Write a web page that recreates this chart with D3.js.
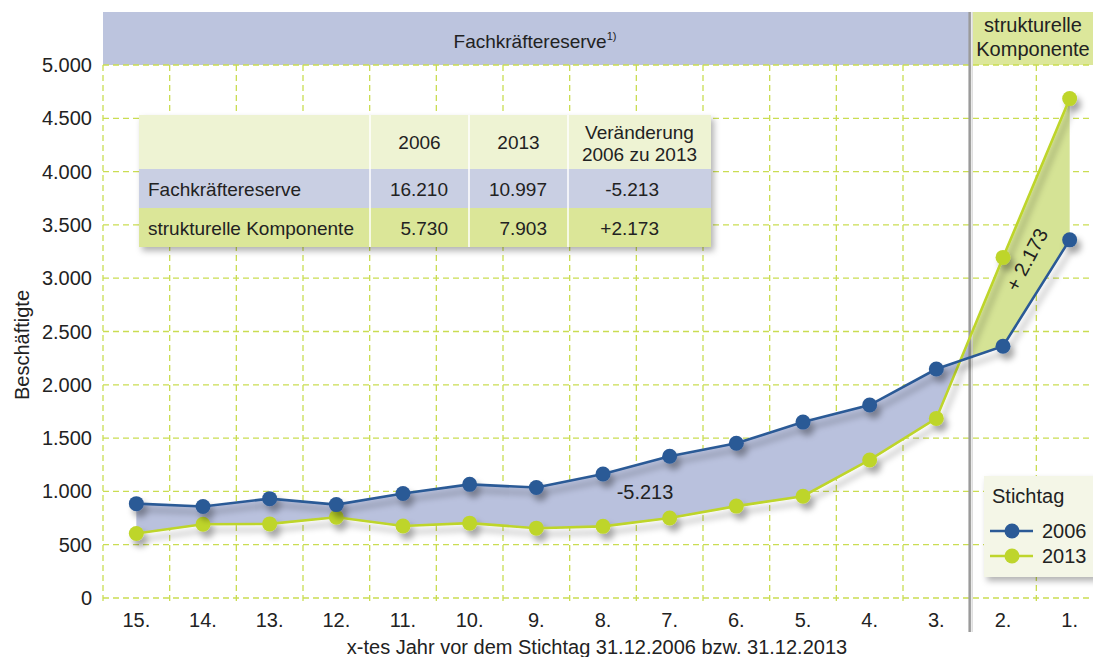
<!DOCTYPE html>
<html>
<head>
<meta charset="utf-8">
<script src="https://d3js.org/d3.v7.min.js"></script>
<style>
  body { margin: 0; background: #fff; }
  svg { display: block; font-family: "Liberation Sans", Arial, sans-serif; }
</style>
</head>
<body>
<svg id="chart" width="1093" height="657"></svg>
<script>
// data
const years = ["15.", "14.", "13.", "12.", "11.", "10.", "9.", "8.", "7.", "6.", "5.", "4.", "3.", "2.", "1."];
const v2006 = [885, 858, 932, 876, 980, 1066, 1036, 1163, 1330, 1452, 1650, 1810, 2148, 2362, 3360];
const v2013 = [605, 692, 695, 758, 675, 702, 655, 672, 750, 862, 955, 1295, 1685, 3195, 4685];
const yTicks = [0, 500, 1000, 1500, 2000, 2500, 3000, 3500, 4000, 4500, 5000];
const tableHead = ["", "2006", "2013", "Veränderung|2006 zu 2013"];
const tableRows = [
  ["Fachkräftereserve", "16.210", "10.997", "-5.213"],
  ["strukturelle Komponente", "5.730", "7.903", "+2.173"]
];
const legendItems = ["2006", "2013"];

const svg = d3.select("#chart");
const blue = "#2b5a96", green = "#bed52c";
const gridCol = "#cadd52";
const txt = "#222";

const x = d3.scaleBand().domain(years).range([103, 1103]);
const y = d3.scaleLinear().domain([0, 5000]).range([598, 65]);
const cx = d => x(d) + x.bandwidth() / 2;
const sepX = x("2.");

// shadow filter
const defs = svg.append("defs");
const f = defs.append("filter").attr("id", "shadow").attr("x", "-20%").attr("y", "-20%").attr("width", "140%").attr("height", "140%");
f.append("feDropShadow").attr("dx", 4).attr("dy", 6).attr("stdDeviation", 3).attr("flood-color", "#000").attr("flood-opacity", 0.35);
const f2 = defs.append("filter").attr("id", "boxshadow").attr("x", "-10%").attr("y", "-10%").attr("width", "130%").attr("height", "130%");
f2.append("feDropShadow").attr("dx", 3).attr("dy", 4).attr("stdDeviation", 3).attr("flood-color", "#000").attr("flood-opacity", 0.3);
defs.append("clipPath").attr("id", "clipL").append("rect").attr("x", 0).attr("y", 0).attr("width", sepX).attr("height", 657);
defs.append("clipPath").attr("id", "clipR").append("rect").attr("x", sepX).attr("y", 0).attr("width", 300).attr("height", 657);

// header bands
svg.append("rect").attr("x", 103).attr("y", 12).attr("width", sepX - 103).attr("height", 53).attr("fill", "#bcc4de");
svg.append("rect").attr("x", sepX + 3).attr("y", 12).attr("width", 1093 - sepX).attr("height", 53).attr("fill", "#dce79b");
const ht = svg.append("text").attr("x", 535).attr("y", 48).attr("text-anchor", "middle").attr("font-size", 19).attr("fill", txt);
ht.append("tspan").text("Fachkräftereserve");
ht.append("tspan").attr("font-size", 11).attr("dy", -8).text("1)");
svg.append("text").attr("x", 1033).attr("y", 32).attr("text-anchor", "middle").attr("font-size", 20).attr("fill", txt).text("strukturelle");
svg.append("text").attr("x", 1033).attr("y", 56).attr("text-anchor", "middle").attr("font-size", 20).attr("fill", txt).text("Komponente");

// grid
const grid = svg.append("g").attr("stroke", gridCol).attr("stroke-width", 1.3).attr("stroke-dasharray", "6,4");
grid.selectAll(".h").data(yTicks).join("line")
  .attr("x1", 103).attr("x2", 1093).attr("y1", d => y(d)).attr("y2", d => y(d));
grid.selectAll(".v").data(d3.range(years.length + 1)).join("line")
  .attr("x1", i => 103 + i * x.bandwidth()).attr("x2", i => 103 + i * x.bandwidth())
  .attr("y1", 65).attr("y2", 602);

// axes labels
svg.append("g").selectAll("text").data(yTicks).join("text")
  .attr("x", 92).attr("y", d => y(d) + 7).attr("text-anchor", "end").attr("font-size", 20).attr("fill", txt)
  .text(d => d3.format(",")(d).replace(/,/g, "."));
svg.append("g").selectAll("text").data(years).join("text")
  .attr("x", d => cx(d)).attr("y", 627).attr("text-anchor", "middle").attr("font-size", 20).attr("fill", txt)
  .text(d => d);
svg.append("text").attr("transform", "translate(29,345) rotate(-90)").attr("text-anchor", "middle")
  .attr("font-size", 20).attr("fill", txt).text("Beschäftigte");
svg.append("text").attr("x", 597).attr("y", 654).attr("text-anchor", "middle")
  .attr("font-size", 20).attr("fill", txt).text("x-tes Jahr vor dem Stichtag 31.12.2006 bzw. 31.12.2013");

// areas
const pts = years.map((d, i) => ({ k: d, a: v2006[i], b: v2013[i] }));
const area = d3.area().x(d => cx(d.k)).y0(d => y(d.b)).y1(d => y(d.a));
svg.append("path").datum(pts).attr("d", area).attr("fill", "#b9c1dd").attr("clip-path", "url(#clipL)");
svg.append("path").datum(pts).attr("d", area).attr("fill", "#d5e395").attr("clip-path", "url(#clipR)");

// separator
svg.append("line").attr("x1", sepX).attr("x2", sepX).attr("y1", 12).attr("y2", 632).attr("stroke", "#9a9a9a").attr("stroke-width", 2.5);
svg.append("line").attr("x1", sepX + 2.5).attr("x2", sepX + 2.5).attr("y1", 12).attr("y2", 632).attr("stroke", "#dcdcdc").attr("stroke-width", 1.5);

// lines and points
const series = [{ v: v2013, c: green }, { v: v2006, c: blue }];
series.forEach(s => {
  const g = svg.append("g").attr("filter", "url(#shadow)");
  g.append("path").datum(s.v).attr("fill", "none").attr("stroke", s.c).attr("stroke-width", 2.6)
    .attr("d", d3.line().x((d, i) => cx(years[i])).y(d => y(d)));
  g.selectAll("circle").data(s.v).join("circle")
    .attr("cx", (d, i) => cx(years[i])).attr("cy", d => y(d)).attr("r", 7.5).attr("fill", s.c);
});

// annotations
svg.append("text").attr("x", 645).attr("y", 499).attr("text-anchor", "middle").attr("font-size", 20).attr("fill", txt).text("-5.213");
svg.append("text").attr("transform", "translate(1033,263) rotate(-62)").attr("text-anchor", "middle")
  .attr("font-size", 20).attr("fill", txt).text("+ 2.173");

// table
const colX = [139, 370, 469, 568, 711];
const rowY = [115, 169, 208, 247];
const rowFill = ["#eef3d3", "#c9cfe3", "#dbe698"];
const numRight = [null, 448, 547, 659];
const tb = svg.append("g");
tb.append("rect").attr("x", colX[0]).attr("y", rowY[0]).attr("width", colX[4] - colX[0]).attr("height", rowY[3] - rowY[0])
  .attr("fill", "#eef3d3").attr("filter", "url(#boxshadow)");
tb.selectAll(".row").data(rowFill).join("rect")
  .attr("x", colX[0]).attr("y", (d, i) => rowY[i]).attr("width", colX[4] - colX[0])
  .attr("height", (d, i) => rowY[i + 1] - rowY[i]).attr("fill", d => d);
tb.selectAll(".cl").data(colX.slice(1, 4)).join("line")
  .attr("x1", d => d).attr("x2", d => d).attr("y1", rowY[0]).attr("y2", rowY[3]).attr("stroke", "#fff").attr("stroke-width", 1.5);
tableHead.forEach((h, j) => {
  const lines = h.split("|");
  lines.forEach((l, k) => {
    tb.append("text").attr("x", (colX[j] + colX[j + 1]) / 2)
      .attr("y", lines.length > 1 ? 139 + k * 22 : 149)
      .attr("text-anchor", "middle").attr("font-size", 19).attr("fill", txt).text(l);
  });
});
tableRows.forEach((r, i) => {
  r.forEach((c, j) => {
    const t = tb.append("text").attr("y", i === 0 ? 196 : 235).attr("font-size", 19).attr("fill", txt).text(c);
    if (j === 0) t.attr("x", colX[0] + 9);
    else t.attr("x", numRight[j]).attr("text-anchor", "end");
  });
});

// legend
const lg = svg.append("g");
lg.append("rect").attr("x", 984).attr("y", 476).attr("width", 120).attr("height", 101)
  .attr("fill", "#f4f6e7").attr("filter", "url(#boxshadow)");
lg.append("text").attr("x", 992).attr("y", 503).attr("font-size", 20).attr("fill", txt).text("Stichtag");
legendItems.forEach((d, i) => {
  const c = i === 0 ? blue : green, yy = 531 + i * 25;
  lg.append("line").attr("x1", 990).attr("x2", 1033).attr("y1", yy).attr("y2", yy).attr("stroke", c).attr("stroke-width", 2.6);
  lg.append("circle").attr("cx", 1012).attr("cy", yy).attr("r", 7.5).attr("fill", c);
  lg.append("text").attr("x", 1042).attr("y", yy + 7).attr("font-size", 20).attr("fill", txt).text(d);
});
</script>
</body>
</html>
